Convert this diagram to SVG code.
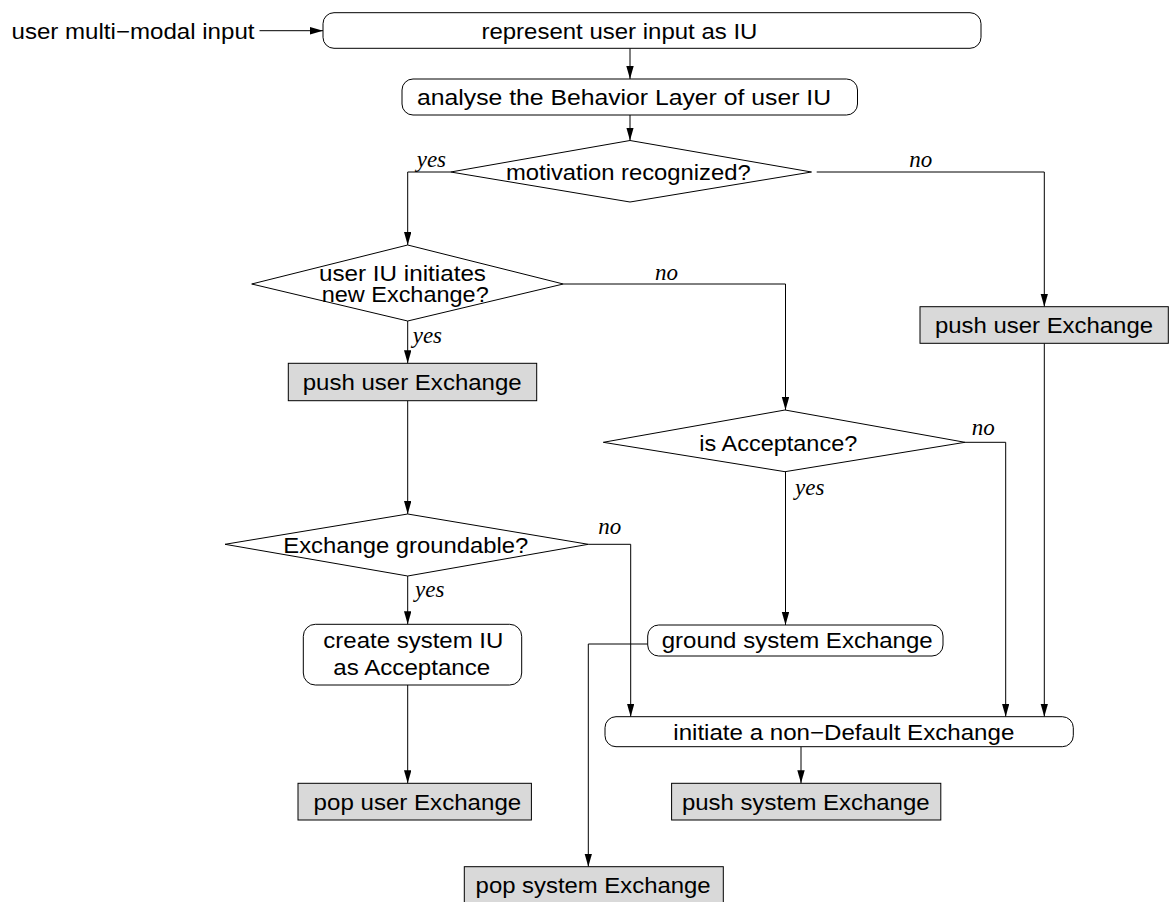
<svg xmlns="http://www.w3.org/2000/svg" width="1172" height="902" viewBox="0 0 1172 902">
<style>
  .n { fill: #fff; stroke: #000; stroke-width: 1; }
  .g { fill: #d9d9d9; stroke: #000; stroke-width: 1; }
  .t { font-family: "Liberation Sans", Arial, sans-serif; font-size: 22px; fill: #000; }
  .l { font-family: "Liberation Serif", "Times New Roman", serif; font-style: italic; font-size: 23px; fill: #000; }
  .c { fill: none; stroke: #000; stroke-width: 1; }
</style>
<defs>
  <marker id="ah" markerUnits="userSpaceOnUse" markerWidth="14" markerHeight="8" refX="13" refY="3.7" orient="auto">
    <path d="M0,0 L13,3.7 L0,7.4 z" fill="#000"/>
  </marker>
</defs>
<rect width="1172" height="902" fill="#fff"/>

<g id="connectors">
  <path class="c" d="M259.5,30.7 H323" marker-end="url(#ah)"/>
  <path class="c" d="M630,48.3 V79" marker-end="url(#ah)"/>
  <path class="c" d="M630,115 V140.5" marker-end="url(#ah)"/>
  <path class="c" d="M450.7,172 H407.7 V245" marker-end="url(#ah)"/>
  <path class="c" d="M816.7,172 H1044.3 V306.7" marker-end="url(#ah)"/>
  <path class="c" d="M563.3,284 H785.5 V410" marker-end="url(#ah)"/>
  <path class="c" d="M407.7,321 V363.3" marker-end="url(#ah)"/>
  <path class="c" d="M407.7,400.7 V514" marker-end="url(#ah)"/>
  <path class="c" d="M965,442.3 H1005.7 V716.7" marker-end="url(#ah)"/>
  <path class="c" d="M785.5,471.7 V625" marker-end="url(#ah)"/>
  <path class="c" d="M588.3,544.3 H630.7 V716.7" marker-end="url(#ah)"/>
  <path class="c" d="M407.7,576 V624.3" marker-end="url(#ah)"/>
  <path class="c" d="M407.7,685 V783.3" marker-end="url(#ah)"/>
  <path class="c" d="M1044.3,343.3 V716.7" marker-end="url(#ah)"/>
  <path class="c" d="M647.7,644 H588.3 V866.7" marker-end="url(#ah)"/>
  <path class="c" d="M801,746.7 V783.3" marker-end="url(#ah)"/>
  <text class="l" x="416.7" y="166.7">yes</text>
  <text class="l" x="909.3" y="166.7">no</text>
  <text class="l" x="655" y="280">no</text>
  <text class="l" x="412.7" y="342.7">yes</text>
  <text class="l" x="971.7" y="435">no</text>
  <text class="l" x="795" y="495">yes</text>
  <text class="l" x="598.3" y="534.3">no</text>
  <text class="l" x="415" y="596.7">yes</text>
</g>

<g id="input">
  <text class="t" x="11.5" y="38.5" textLength="243" lengthAdjust="spacingAndGlyphs">user multi−modal input</text>
</g>

<g id="represent">
  <rect class="n" x="323" y="12.7" width="658" height="35.6" rx="11"/>
  <text class="t" x="481.4" y="38.5" textLength="276" lengthAdjust="spacingAndGlyphs">represent user input as IU</text>
</g>

<g id="analyse">
  <rect class="n" x="402" y="79" width="455.5" height="36" rx="11"/>
  <text class="t" x="417" y="105" textLength="414" lengthAdjust="spacingAndGlyphs">analyse the Behavior Layer of user IU</text>
</g>

<g id="motivation">
  <polygon class="n" points="630,140.5 811.5,172 630,202 450.7,172"/>
  <text class="t" x="506" y="179.5" textLength="244.7" lengthAdjust="spacingAndGlyphs">motivation recognized?</text>
</g>

<g id="initiates">
  <polygon class="n" points="407.7,245 563.3,284 407.7,321 251.7,284"/>
  <text class="t" x="319" y="281" textLength="167" lengthAdjust="spacingAndGlyphs">user IU initiates</text>
  <text class="t" x="321.7" y="301.7" textLength="167" lengthAdjust="spacingAndGlyphs">new Exchange?</text>
</g>

<g id="push-user-left">
  <rect class="g" x="288.3" y="363.3" width="248.4" height="37.4"/>
  <text class="t" x="302.7" y="390" textLength="219" lengthAdjust="spacingAndGlyphs">push user Exchange</text>
</g>

<g id="push-user-right">
  <rect class="g" x="920" y="306.7" width="248.3" height="36.6"/>
  <text class="t" x="935" y="333" textLength="218" lengthAdjust="spacingAndGlyphs">push user Exchange</text>
</g>

<g id="acceptance">
  <polygon class="n" points="785,410 965,442.3 785,471.7 603.3,442.3"/>
  <text class="t" x="699.3" y="451" textLength="158" lengthAdjust="spacingAndGlyphs">is Acceptance?</text>
</g>

<g id="groundable">
  <polygon class="n" points="407.7,514 588.3,544.3 407.7,576 225,544.3"/>
  <text class="t" x="283.3" y="552.5" textLength="245" lengthAdjust="spacingAndGlyphs">Exchange groundable?</text>
</g>

<g id="create">
  <rect class="n" x="303.3" y="624.3" width="218.4" height="60.7" rx="12"/>
  <text class="t" x="323.3" y="648.3" textLength="180" lengthAdjust="spacingAndGlyphs">create system IU</text>
  <text class="t" x="333.3" y="675" textLength="157" lengthAdjust="spacingAndGlyphs">as Acceptance</text>
</g>

<g id="ground">
  <rect class="n" x="647.7" y="625" width="295.3" height="31" rx="11"/>
  <text class="t" x="661.7" y="648" textLength="271" lengthAdjust="spacingAndGlyphs">ground system Exchange</text>
</g>

<g id="initiate">
  <rect class="n" x="605" y="716.7" width="468.3" height="30" rx="11"/>
  <text class="t" x="673.3" y="739.5" textLength="341" lengthAdjust="spacingAndGlyphs">initiate a non−Default Exchange</text>
</g>

<g id="pop-user">
  <rect class="g" x="298" y="783.3" width="233.4" height="36.7"/>
  <text class="t" x="313.6" y="809.5" textLength="207.6" lengthAdjust="spacingAndGlyphs">pop user Exchange</text>
</g>

<g id="push-system">
  <rect class="g" x="671.6" y="783.3" width="269.2" height="36.7"/>
  <text class="t" x="681.9" y="809.5" textLength="247.7" lengthAdjust="spacingAndGlyphs">push system Exchange</text>
</g>

<g id="pop-system">
  <rect class="g" x="464.3" y="866.7" width="259" height="37"/>
  <text class="t" x="475.6" y="893.3" textLength="235" lengthAdjust="spacingAndGlyphs">pop system Exchange</text>
</g>
</svg>
